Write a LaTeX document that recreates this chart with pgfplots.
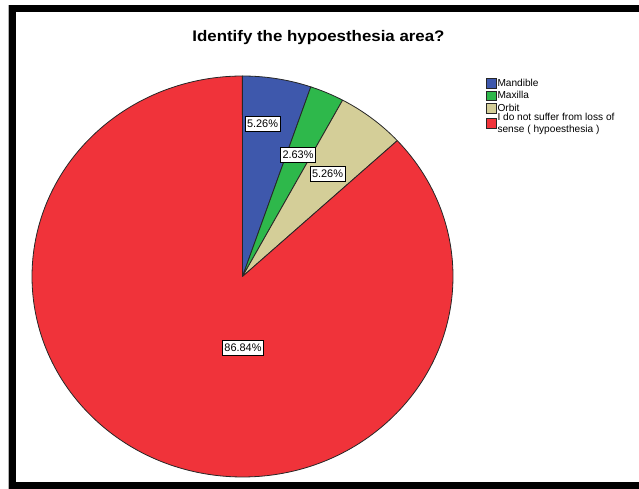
\documentclass[border=0pt]{standalone}
\usepackage{pgfplots}
\usepackage{pgfplotstable}
\pgfplotsset{compat=1.18}
\usepackage{fontspec}
\setmainfont{Liberation Sans}

\definecolor{pie0}{RGB}{62,88,172}
\definecolor{pie1}{RGB}{46,184,75}
\definecolor{pie2}{RGB}{212,206,152}
\definecolor{pie3}{RGB}{240,51,58}

% share of each answer (percent) and where its label sits
\pgfplotstableread[col sep=comma]{
category,value,lx,ly
Mandible,5.26,262.5,365
Maxilla,2.63,298,334
Orbit,5.26,327.5,315
No loss of sense,86.84,243,141
}\piedata

\begin{document}
\begin{tikzpicture}
% start and end angle of every slice, clockwise from 12 o'clock
\def\startang{90}%
\pgfplotsforeachungrouped \i in {0,...,3}{%
  \pgfplotstablegetelem{\i}{value}\of\piedata
  \pgfmathsetmacro\endang{\startang-3.6*\pgfplotsretval}%
  \expandafter\xdef\csname sA\i\endcsname{\startang}%
  \expandafter\xdef\csname eA\i\endcsname{\endang}%
  \global\let\startang\endang
}%
\begin{axis}[
  name=ax,
  x=0.75pt, y=0.75pt,
  xmin=0, xmax=639, ymin=0, ymax=489,
  hide axis, clip=false,
  /pgf/number format/assume math mode=true,
  legend image code/.code={\draw[#1] (0pt,-3.4pt) rectangle (7.4pt,3.9pt);},
  legend style={
    at={(axis cs:485.5,411)}, anchor=north west,
    draw=none, fill=none, inner sep=0pt,
    font=\fontsize{7.6}{9}\selectfont,
    cells={anchor=west},
    nodes={inner xsep=1pt, inner ysep=0.3pt},
    row sep=1.4pt,
  },
]
% frame
\fill[black] (axis cs:9,477) rectangle (axis cs:639,484);
\fill[black] (axis cs:9,0) rectangle (axis cs:16,484);
\fill[black] (axis cs:9,0) rectangle (axis cs:639,7);
\fill[gray!60] (axis cs:7.6,0) rectangle (axis cs:8.4,484);

% slices
\pgfplotsinvokeforeach{0,...,3}{
  \filldraw[fill=pie#1, draw=black!85, line width=0.6pt, line join=round]
    (axis cs:242.5,212.5) --
    (axis cs:{242.5+210.5*cos(\csname sA#1\endcsname)},{212.5+200.5*sin(\csname sA#1\endcsname)})
    arc[start angle=\csname sA#1\endcsname, end angle=\csname eA#1\endcsname,
        x radius=157.875pt, y radius=150.375pt] -- cycle;
}

% percentage labels
\addplot[draw=none, forget plot,
  point meta=explicit,
  nodes near coords={\pgfmathprintnumber[fixed,precision=2,fixed zerofill,assume math mode=true]{\pgfplotspointmeta}\%},
  nodes near coords align={center},
  every node near coord/.style={anchor=center, fill=white, draw=black, line width=0.5pt,
    font=\fontsize{8.2}{9}\selectfont, inner xsep=1.5pt, inner ysep=2.6pt},
] table[x=lx, y=ly, meta=value] {\piedata};

\addlegendimage{fill=pie0, draw=black!85}
\addlegendentry{Mandible}
\addlegendimage{fill=pie1, draw=black!85}
\addlegendentry{Maxilla}
\addlegendimage{fill=pie2, draw=black!85}
\addlegendentry{Orbit}
\addlegendimage{legend image code/.code={%
  \draw[fill=pie3, draw=black!85] (0pt,-4.15pt) rectangle (7.4pt,3.15pt);}}
\addlegendentry{\raisebox{0pt}[\dimexpr\height-2.6pt\relax][\depth]{%
  \begin{tabular}{@{}l@{}}I do not suffer from loss of\\sense ( hypoesthesia )\end{tabular}}}

\node[font=\bfseries\fontsize{11.5}{13}\selectfont, anchor=base]
  at (axis cs:318.5,447) {\scalebox{1.1}[1]{Identify the hypoesthesia area?}};
\end{axis}
\pgfresetboundingbox
\path (ax.south west) rectangle (ax.north east);
\end{tikzpicture}
\end{document}
